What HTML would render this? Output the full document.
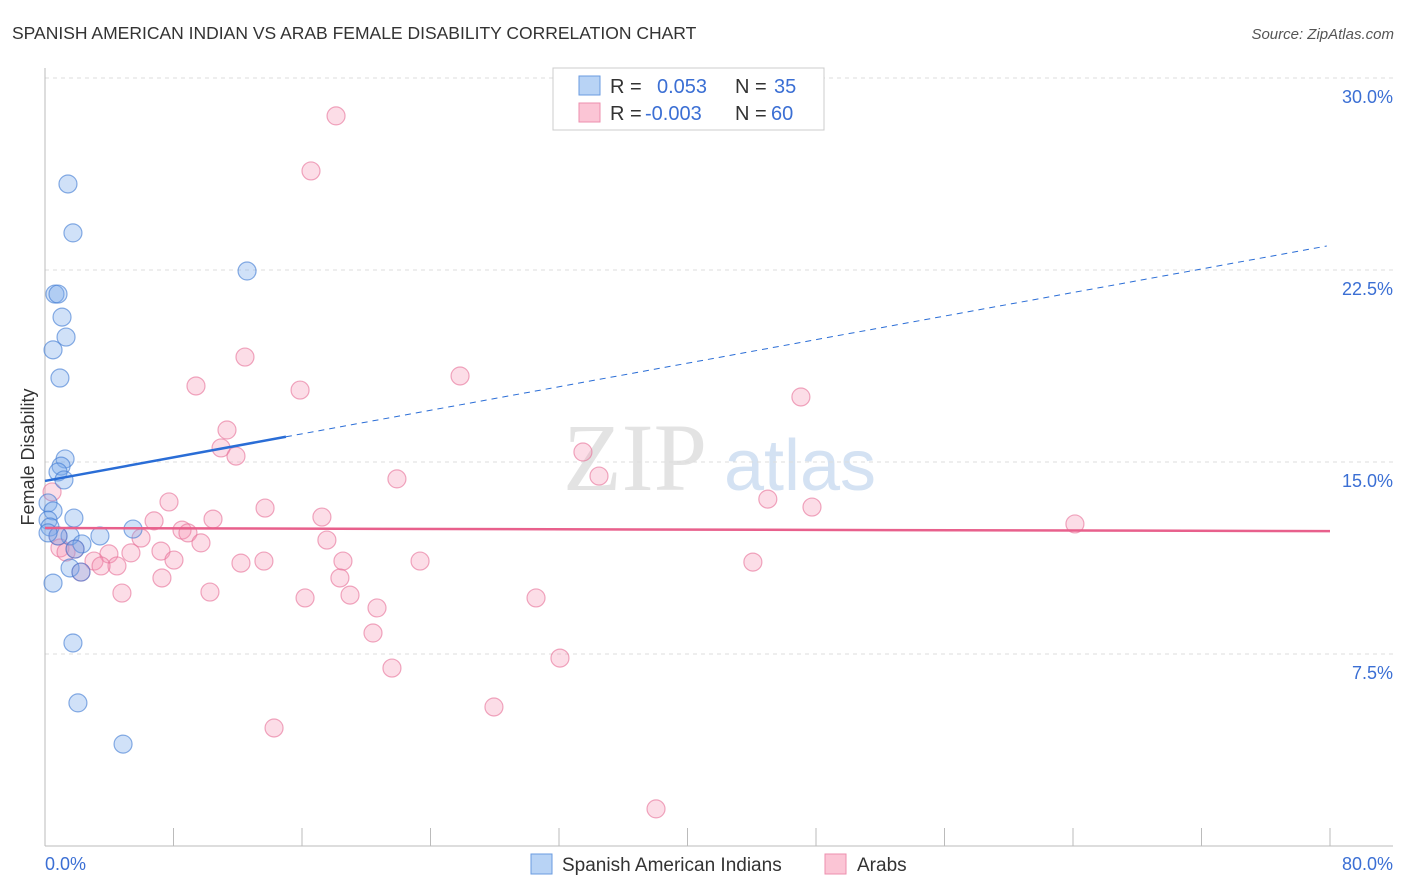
<!DOCTYPE html>
<html><head><meta charset="utf-8"><style>
body{margin:0;background:#fff;font-family:"Liberation Sans",sans-serif;}
svg{display:block}
</style></head><body>
<svg id="chart" width="1406" height="892" xmlns="http://www.w3.org/2000/svg">
<text x="12" y="39" font-size="17.5" fill="#333">SPANISH AMERICAN INDIAN VS ARAB FEMALE DISABILITY CORRELATION CHART</text>
<text x="1394" y="39" font-size="15" fill="#555" text-anchor="end" font-style="italic">Source: ZipAtlas.com</text>
<g>
<text x="635" y="490" font-size="96" fill="#e3e3e3" text-anchor="middle" font-family="Liberation Serif,serif">ZIP</text>
<text x="800" y="490" font-size="72" fill="#d4e2f3" text-anchor="middle">atlas</text>
</g>
<g id="grid"></g>
<g id="axes"></g>
<g id="pts"></g>
<g id="trend"></g>
<g>
<rect x="553" y="68" width="271" height="62" fill="#fff" stroke="#ccc"/>
<rect x="579" y="76" width="21" height="19" fill="#b8d3f5" stroke="#6a9be0"/>
<rect x="579" y="103" width="21" height="19" fill="#fbc5d5" stroke="#ec8fae"/>
<text x="610" y="93" font-size="20" fill="#333">R = </text><text x="657" y="93" font-size="20" fill="#3b6fd4">0.053</text>
<text x="735" y="93" font-size="20" fill="#333">N = </text><text x="774" y="93" font-size="20" fill="#3b6fd4">35</text>
<text x="610" y="120" font-size="20" fill="#333">R = </text><text x="645" y="120" font-size="20" fill="#3b6fd4">-0.003</text>
<text x="735" y="120" font-size="20" fill="#333">N = </text><text x="771" y="120" font-size="20" fill="#3b6fd4">60</text>
</g>
<g>
<rect x="531" y="854" width="21" height="20" fill="#b8d3f5" stroke="#6a9be0"/>
<text x="562" y="871" font-size="19" fill="#333">Spanish American Indians</text>
<rect x="825" y="854" width="21" height="20" fill="#fbc5d5" stroke="#ec8fae"/>
<text x="857" y="871" font-size="19" fill="#333">Arabs</text>
</g>
<text transform="translate(34,457) rotate(-90)" font-size="18" fill="#333" text-anchor="middle">Female Disability</text>
</svg>
<script>
const yTicks=[7.5,15,22.5,30];
const yTickLabels=["7.5%","15.0%","22.5%","30.0%"];
const xTickLabels=["0.0%","80.0%"];
const blueX=[1.43,1.74,12.58,0.62,0.81,1.06,1.31,0.5,0.93,1.25,1.0,0.81,1.18,0.19,0.5,0.19,0.31,1.8,5.48,1.56,0.81,3.42,2.3,1.87,1.56,2.24,0.5,1.74,2.05,4.86,0.19];
const blueY=[25.86,23.95,22.46,21.56,21.56,20.66,19.88,19.38,18.28,15.12,14.84,14.61,14.3,13.4,13.09,12.73,12.46,12.81,12.38,12.11,12.11,12.11,11.8,11.6,10.86,10.7,10.27,7.93,5.59,3.98,12.23];
const pinkX=[18.12,16.56,12.45,9.4,15.88,25.84,47.06,11.33,10.96,11.89,33.49,21.91,34.49,45.0,47.75,7.72,13.7,6.79,10.46,17.24,64.12,8.53,8.9,5.98,9.71,17.55,0.81,0.93,1.31,1.87,3.98,5.35,7.22,3.05,4.48,3.49,8.03,12.2,13.63,18.55,23.35,44.07,2.24,7.28,18.36,4.79,10.27,16.19,18.99,30.57,20.67,20.42,32.06,21.6,27.95,14.26,38.04,0.44];
const pinkY=[28.52,26.37,19.1,17.97,17.81,18.36,17.54,16.25,15.55,15.23,15.39,14.34,14.45,13.55,13.24,13.44,13.2,12.7,12.77,12.85,12.58,12.34,12.23,12.03,11.84,11.95,12.11,11.64,11.48,11.6,11.41,11.45,11.52,11.13,10.94,10.94,11.17,11.05,11.13,11.13,11.13,11.09,10.7,10.47,10.47,9.88,9.92,9.69,9.8,9.69,9.3,8.32,7.34,6.95,5.43,4.61,1.45,13.83];
const blueTrend=[14.26,0.115];
const pinkTrend=[12.42,-0.0015];
const X0=45,X1=1330,Y0=846;
const sx=v=>X0+(v/80)*(X1-X0);
const sy=v=>Y0-v*25.6;
const NS="http://www.w3.org/2000/svg";
function mk(t,a,p){const e=document.createElementNS(NS,t);for(const k in a)e.setAttribute(k,a[k]);p.appendChild(e);return e;}
const grid=document.getElementById('grid'),axes=document.getElementById('axes'),pts=document.getElementById('pts'),tr=document.getElementById('trend');
yTicks.forEach((v,i)=>{
 const l=mk('line',{x1:X0,x2:1393,y1:sy(v),y2:sy(v),stroke:'#ddd','stroke-dasharray':'4,4'},grid);
 
 
 const t=mk('text',{x:1393,y:sy(v)+25,'font-size':18,fill:'#3b6fd4','text-anchor':'end'},axes);
 t.textContent=yTickLabels[i];
 
 
});
let a=mk('line',{x1:X0,x2:X0,y1:68,y2:Y0,stroke:'#bbb'},axes);


a=mk('line',{x1:X0,x2:1393,y1:Y0,y2:Y0,stroke:'#bbb'},axes);


for(let i=0;i<=10;i++){const t=mk('line',{x1:sx(i*8),x2:sx(i*8),y1:Y0,y2:Y0-18,stroke:'#bbb'},axes);
 
 }
[[0,'start',X0],[1,'end',1393]].forEach(([i,an,x])=>{const t=mk('text',{x:x,y:870,'font-size':18,fill:'#3b6fd4','text-anchor':an},axes);t.textContent=xTickLabels[i];
 
 });
pinkX.forEach((x,i)=>{const c=mk('circle',{cx:sx(x),cy:sy(pinkY[i]),r:9,fill:'rgba(244,143,177,0.3)',stroke:'rgba(230,110,150,0.6)','stroke-width':1.2},pts);
 
 });
blueX.forEach((x,i)=>{const c=mk('circle',{cx:sx(x),cy:sy(blueY[i]),r:9,fill:'rgba(120,170,235,0.35)',stroke:'rgba(60,120,210,0.6)','stroke-width':1.2},pts);
 
 });
let l=mk('line',{x1:sx(0),y1:sy(blueTrend[0]),x2:sx(15),y2:sy(blueTrend[0]+blueTrend[1]*15),stroke:'#2a6dd6','stroke-width':2.5},tr);


l=mk('line',{x1:sx(15),y1:sy(blueTrend[0]+blueTrend[1]*15),x2:sx(79.8),y2:sy(blueTrend[0]+blueTrend[1]*79.8),stroke:'#2a6dd6','stroke-width':1,'stroke-dasharray':'6,5'},tr);


l=mk('line',{x1:sx(0),y1:sy(pinkTrend[0]),x2:sx(80),y2:sy(pinkTrend[0]+pinkTrend[1]*80),stroke:'#e8608c','stroke-width':2.5},tr);


</script>
</body></html>
